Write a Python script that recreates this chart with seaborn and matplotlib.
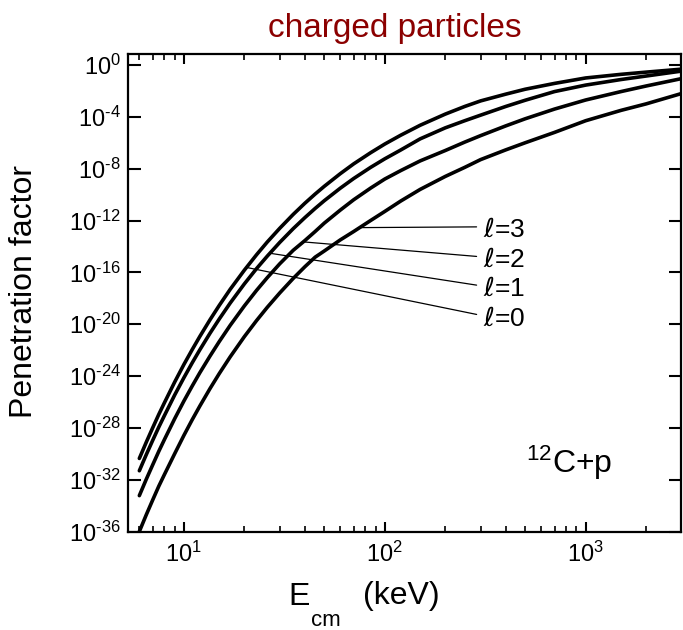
import numpy as np
import pandas as pd
import seaborn as sns
import matplotlib
matplotlib.use("Agg")
import matplotlib.pyplot as plt
from matplotlib.ticker import LogLocator, NullLocator, NullFormatter

# E_cm in keV and log10 of penetration factor
energy = [6, 6.5, 7, 7.5, 8, 9, 10, 11, 12, 13.5, 15, 17, 20, 23, 26, 30, 35, 40, 45,
          50, 60, 70, 85, 100, 120, 150, 200, 250, 300, 400, 500, 700, 1000, 1500,
          2000, 3000]
logp_l0 = [-30.36, -29.10, -27.98, -26.96, -26.06, -24.46, -23.11, -21.96, -20.95,
           -19.65, -18.55, -17.31, -15.83, -14.64, -13.66, -12.60, -11.53, -10.67,
           -9.96, -9.36, -8.39, -7.63, -6.77, -6.10, -5.42, -4.65, -3.79, -3.20,
           -2.77, -2.25, -1.87, -1.42, -1.00, -0.72, -0.55, -0.32]
logp_l1 = [-31.31, -30.06, -28.95, -27.94, -27.05, -25.46, -24.13, -22.98, -21.98,
           -20.69, -19.60, -18.37, -16.89, -15.71, -14.75, -13.69, -12.63, -11.78,
           -11.07, -10.47, -9.51, -8.76, -7.90, -7.24, -6.56, -5.70, -4.85, -4.30,
           -3.87, -3.20, -2.72, -2.05, -1.55, -1.12, -0.85, -0.47]
logp_l2 = [-33.23, -31.96, -30.84, -29.81, -28.90, -27.29, -25.93, -24.77, -23.75,
           -22.45, -21.34, -20.09, -18.59, -17.39, -16.41, -15.34, -14.30, -13.55,
           -12.85, -12.20, -11.20, -10.40, -9.50, -8.80, -8.15, -7.40, -6.60, -5.95,
           -5.45, -4.70, -4.15, -3.40, -2.70, -2.05, -1.62, -1.05]
logp_l3 = [-36.00, -34.70, -33.55, -32.50, -31.60, -29.99, -28.58, -27.37, -26.32,
           -24.96, -23.81, -22.52, -20.96, -19.72, -18.70, -17.59, -16.47, -15.57,
           -14.83, -14.35, -13.50, -12.85, -12.00, -11.30, -10.50, -9.60, -8.60,
           -7.90, -7.30, -6.55, -6.00, -5.20, -4.30, -3.50, -3.00, -2.20]

ells = [0, 1, 2, 3]
# energies where the leader lines touch each curve
label_energy = [20.5, 26.8, 39.3, 75.0]
label_ypos = [0.446, 0.508, 0.569, 0.632]

curves = [logp_l0, logp_l1, logp_l2, logp_l3]
frames = []
for l, lp in zip(ells, curves):
    frames.append(pd.DataFrame({"E": energy, "P": 10.0 ** np.array(lp), "l": l}))
df = pd.concat(frames, ignore_index=True)

sns.set_style("ticks")
plt.rcParams["font.family"] = ["Liberation Sans", "DejaVu Sans"]
plt.rcParams["mathtext.fontset"] = "custom"
plt.rcParams["mathtext.rm"] = "Liberation Sans"
plt.rcParams["mathtext.it"] = "DejaVu Sans:italic"
plt.rcParams["mathtext.default"] = "regular"
for k in ["text.color", "axes.labelcolor", "xtick.color", "ytick.color"]:
    plt.rcParams[k] = "black"

fig = plt.figure(figsize=(6.83, 6.30), dpi=100)
ax = fig.add_axes([0.1867, 0.1563, 0.8111, 0.758])

sns.lineplot(data=df, x="E", y="P", hue="l", palette=["black"] * 4,
             linewidth=2.6, legend=False, estimator=None, ax=ax)

ax.set_xscale("log")
ax.set_yscale("log")
ax.set_xlim(5.24, 3000)
ax.set_ylim(1e-36, 10 ** 0.85)

exps = list(range(0, -37, -4))
ax.set_yticks([10.0 ** k for k in exps])
ax.set_yticklabels([r"10$^{%s}$" % str(k).replace("-", "\u2010") for k in exps])
ax.yaxis.set_minor_locator(NullLocator())

ax.set_xticks([10, 100, 1000])
ax.set_xticklabels([r"10$^{1}$", r"10$^{2}$", r"10$^{3}$"])
ax.xaxis.set_minor_locator(LogLocator(base=10, subs=range(2, 10), numticks=20))
ax.xaxis.set_minor_formatter(NullFormatter())

ax.set_xlabel("")
ax.set_ylabel("")

ax.tick_params(which="both", direction="in", top=True, right=True,
               labelsize=17, colors="black", width=1.5)
ax.tick_params(axis="y", which="major", length=9, pad=5)
ax.tick_params(axis="x", which="major", length=7, pad=7)
ax.tick_params(axis="x", which="minor", length=4, width=1.2)
for s in ax.spines.values():
    s.set_linewidth(1.6)
    s.set_color("black")

# leader lines and l labels
for l, e, yp, lp in zip(ells, label_energy, label_ypos, curves):
    py = 10.0 ** np.interp(np.log10(e), np.log10(energy), lp)
    ax.annotate(r"$\mathit{\ell}$=%d" % l, xy=(e, py), xytext=(0.641, yp),
                textcoords="axes fraction", ha="left", va="center", fontsize=19,
                arrowprops=dict(arrowstyle="-", lw=0.9, color="black",
                                shrinkA=2, shrinkB=0, relpos=(0, 0.62)))

ax.text(0.72, 0.123, r"${}^{12}$C+p", transform=ax.transAxes, fontsize=23,
        ha="left", va="baseline")

fig.text(395 / 683, 1 - 37 / 630, "charged particles", color="#8B0000",
         fontsize=24, ha="center", va="baseline")
fig.text(24 / 683, 1 - 292 / 630, "Penetration factor", rotation=90,
         fontsize=23, ha="center", va="center")
fig.text(288 / 683, 1 - 605 / 630, "E", fontsize=23, ha="left", va="baseline")
fig.text(311 / 683, 1 - 626 / 630, "cm", fontsize=16, ha="left", va="baseline")
fig.text(363 / 683, 1 - 604 / 630, "(keV)", fontsize=23, ha="left", va="baseline")

fig.savefig("out.png", dpi=100)
